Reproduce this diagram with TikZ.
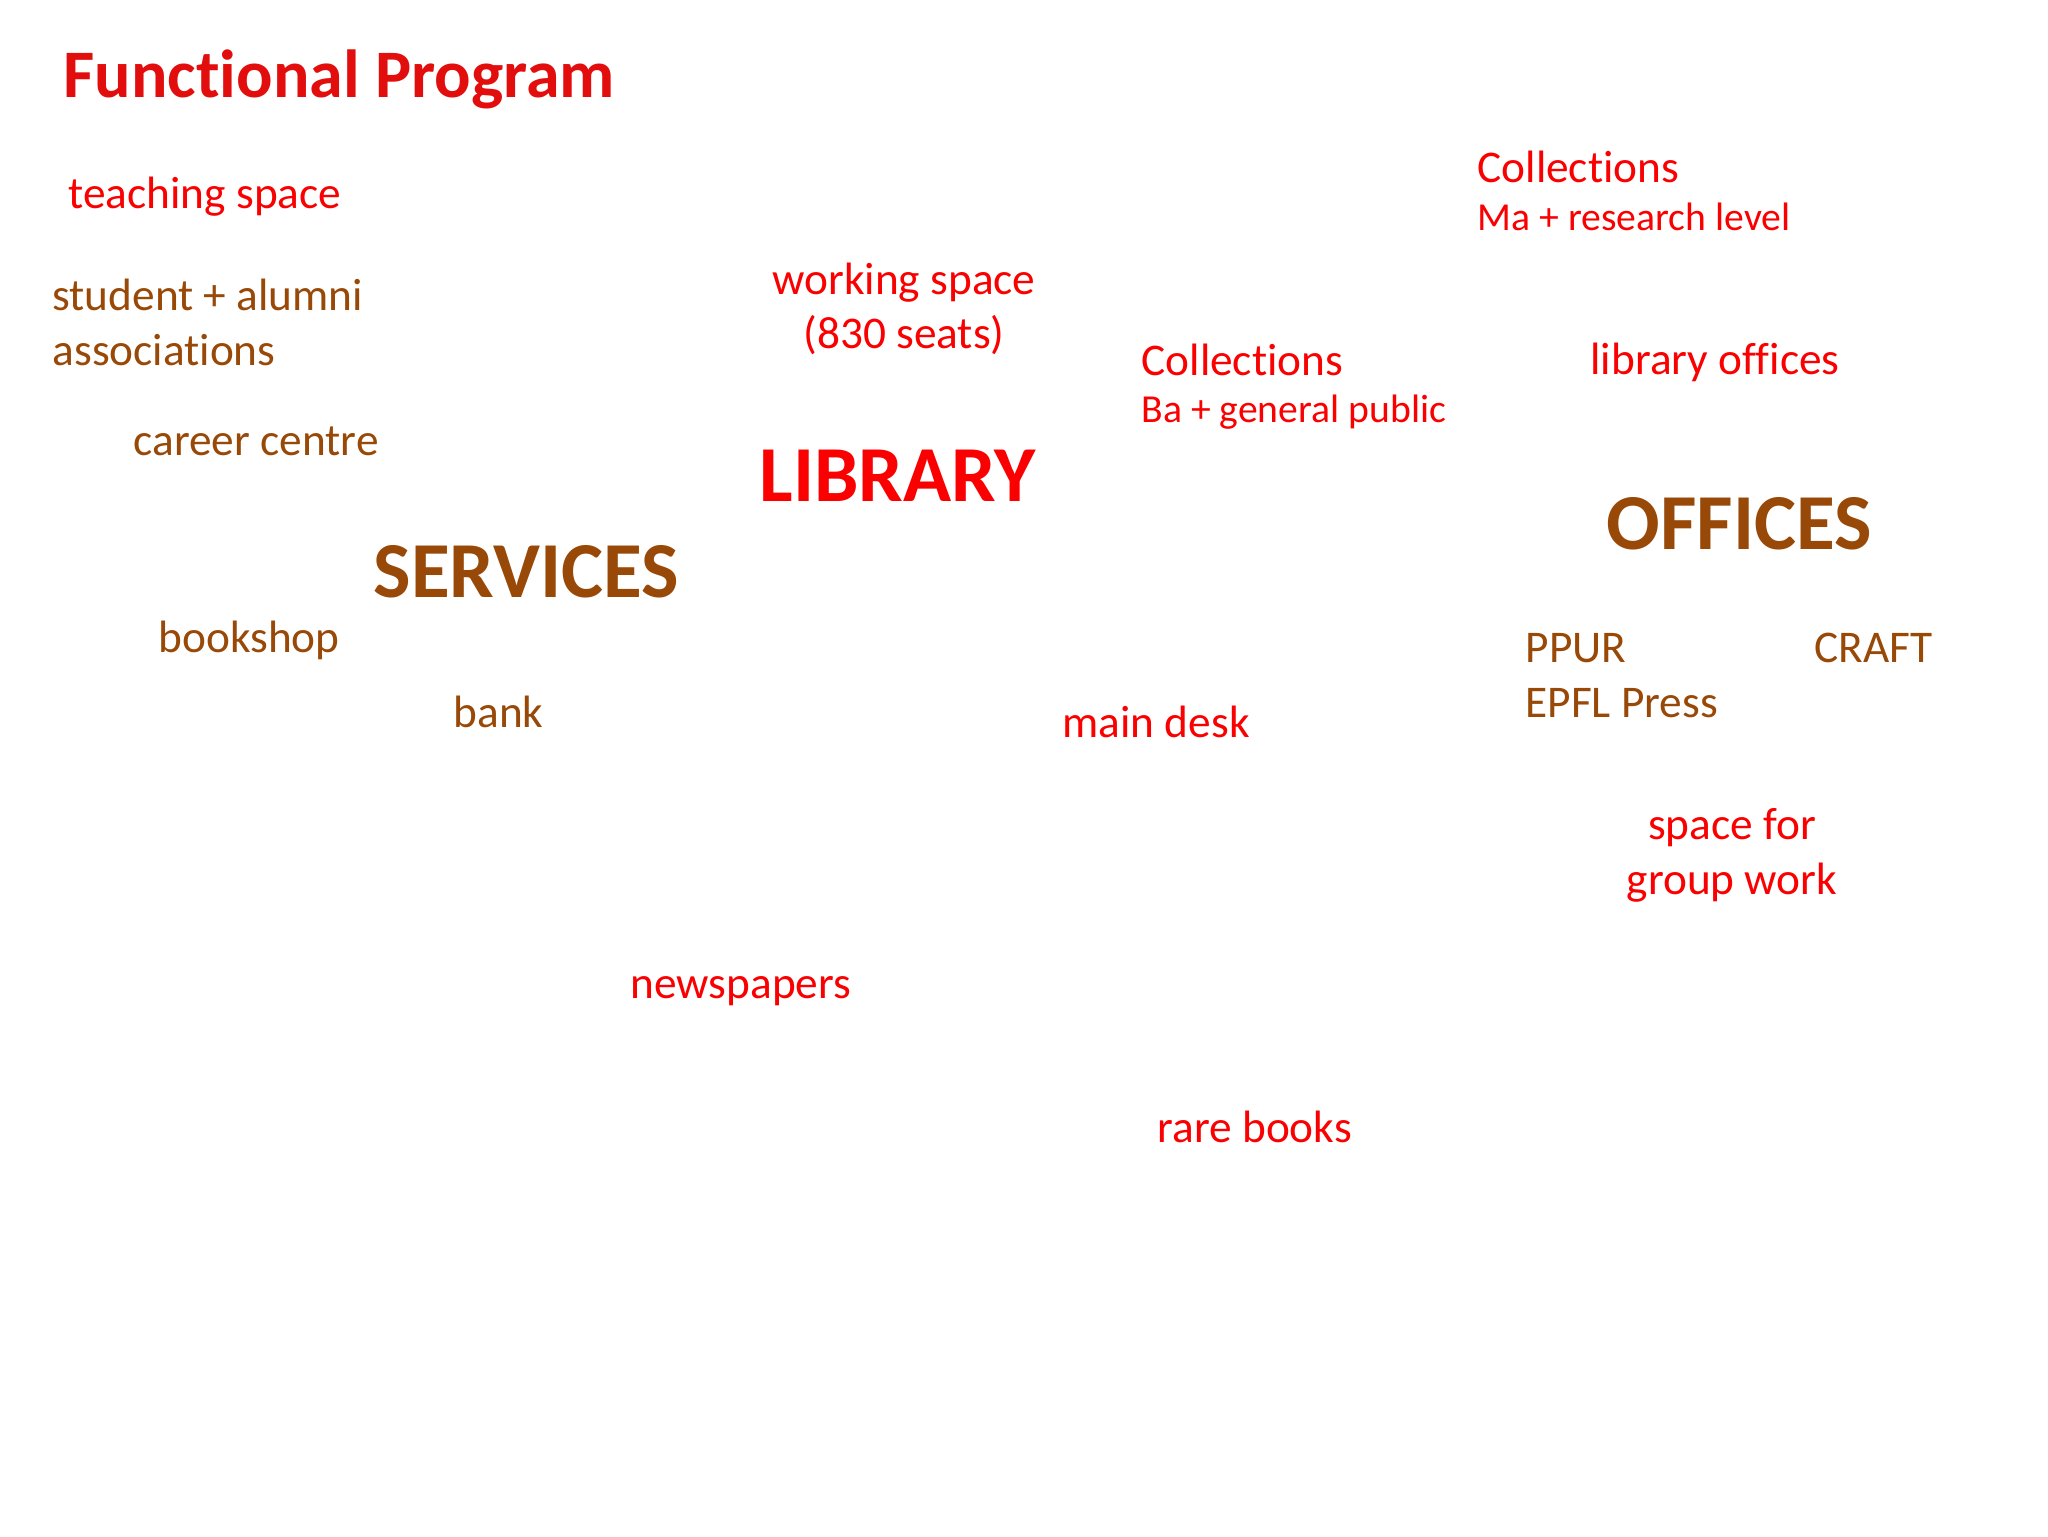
\documentclass[tikz,border=0pt]{standalone}
\usepackage{fontspec}
\setmainfont{Carlito}[Ligatures=NoCommon]
\usepackage{xcolor}
\usepackage{tikz}

\definecolor{titlered}{RGB}{226,14,14}
\definecolor{libred}{RGB}{250,0,0}
\definecolor{servbrown}{RGB}{152,72,7}

\tikzset{
  lbl/.style={inner sep=0pt, anchor=base west, font=\fontsize{16}{19}\selectfont},
  sublbl/.style={lbl, font=\fontsize{14}{17}\selectfont},
  bigword/.style={inner sep=0pt, anchor=base west, font=\fontsize{28}{34}\selectfont\bfseries},
}

\begin{document}
\begin{tikzpicture}[x=0.0124023cm, y=-0.0124023cm]
    \useasboundingbox (0,0) rectangle (2048,1536);
    \node [inner sep=0pt, anchor=base west, font=\fontsize{24}{29}\selectfont\bfseries, text=titlered] (title) at (63,98) {Functional Program};
    % services side
    \node [lbl, text=libred] (teach) at (68,208) {teaching space};
    \node [lbl, text=servbrown] (student) at (52,310) {student + alumni};
    \node [lbl, text=servbrown] (assoc) at (52,365) {associations};
    \node [lbl, text=servbrown] (career) at (133,455) {career centre};
    \node [bigword, text=servbrown] (services) at (373,597) {SERVICES};
    \node [lbl, text=servbrown] (bookshop) at (158,652) {bookshop};
    \node [lbl, text=servbrown] (bank) at (453,727) {bank};
    % library
    \node [lbl, anchor=base, text=libred] (working) at (904,294) {working space};
    \node [lbl, anchor=base, text=libred] (seats) at (904,348) {(830 seats)};
    \node [bigword, text=libred] (library) at (759,501) {LIBRARY};
    \node [lbl, text=libred] (collba) at (1141,375) {Collections};
    \node [sublbl, text=libred] (basub) at (1141,422) {Ba + general public};
    \node [lbl, text=libred] (collma) at (1477,182) {Collections};
    \node [sublbl, text=libred] (masub) at (1477,230) {Ma + research level};
    \node [lbl, text=libred] (liboffices) at (1590,374) {library offices};
    \node [lbl, text=libred] (maindesk) at (1062,737) {main desk};
    \node [lbl, anchor=base, text=libred] (spacefor) at (1732,839) {space for};
    \node [lbl, anchor=base, text=libred] (groupwork) at (1732,894) {group work};
    \node [lbl, text=libred] (newspapers) at (630,998) {newspapers};
    \node [lbl, text=libred] (rarebooks) at (1157,1142) {rare books};
    % offices
    \node [bigword, text=servbrown] (offices) at (1606,549) {OFFICES};
    \node [lbl, text=servbrown] (ppur) at (1525,662) {PPUR};
    \node [lbl, text=servbrown] (epfl) at (1525,717) {EPFL Press};
    \node [lbl, text=servbrown] (craft) at (1814,662) {CRAFT};
\end{tikzpicture}
\end{document}
